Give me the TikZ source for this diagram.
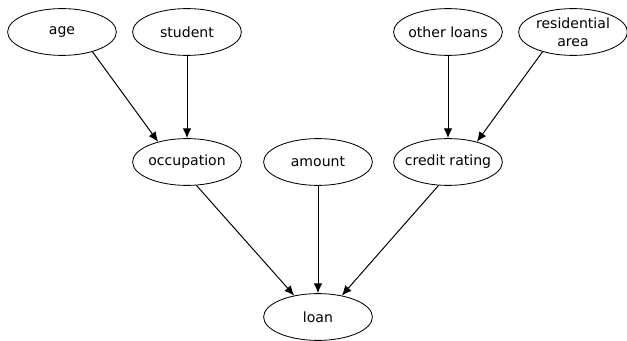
\documentclass[tikz,border=0pt]{standalone}
\usepackage{fontspec}
\setmainfont{DejaVu Sans}
\usetikzlibrary{arrows.meta,shapes.geometric}

\begin{document}
\begin{tikzpicture}[x=0.025cm, y=-0.025cm,
    var/.style={draw, ellipse, line width=0.6pt, inner ysep=0pt, inner xsep=-6pt,
        minimum width=2.72cm, minimum height=1.17cm, align=center,
        font=\fontsize{10}{12.5}\selectfont},
    dep/.style={draw, line width=0.7pt, -{Latex[length=7pt, width=6pt]}}]
    \useasboundingbox (0,0) rectangle (627,341);
    % top row
    \node[var] (age) at (62,32) {age};
    \node[var] (student) at (187,32) {student};
    \node[var] (other) at (448,32) {other loans};
    \node[var] (area) at (573,32) {residential\\area};
    % middle row
    \node[var] (occupation) at (187,162) {occupation};
    \node[var] (amount) at (318,162) {amount};
    \node[var] (rating) at (448,162) {credit rating};
    % bottom
    \node[var] (loan) at (318,317) {loan};
    % dependencies
    \path[dep] (age.-33) to (occupation.145);
    \path[dep] (student) to (occupation);
    \path[dep] (other) to (rating);
    \path[dep] (area.-147) to (rating.35);
    \path[dep] (occupation.-68) to (loan.138);
    \path[dep] (amount) to (loan);
    \path[dep] (rating.-112) to (loan.42);
\end{tikzpicture}
\end{document}
